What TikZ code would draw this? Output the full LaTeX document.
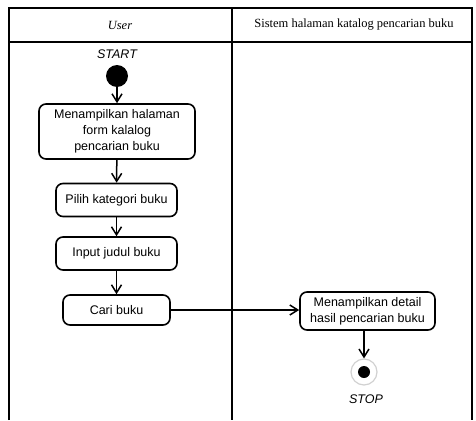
\documentclass[tikz,border=0pt]{standalone}
\usepackage{fontspec}
\setmainfont{Liberation Serif}
\setsansfont{Liberation Sans}
\usetikzlibrary{arrows.meta}
\begin{document}
\begin{tikzpicture}[x=1pt,y=-1pt,
  lane/.style={line width=2pt},
  act/.style={draw, line width=1.6pt, rounded corners=7pt, align=center,
    font=\sffamily\fontsize{12.5}{16}\selectfont, inner sep=0pt},
  flow/.style={line width=1.5pt, -{Straight Barb[length=8pt,width=10pt,line width=1.5pt]}},
  lbl/.style={font=\sffamily\itshape\fontsize{12.5}{15}\selectfont}]
\useasboundingbox (0,0) rectangle (476,420);
% swimlane frame
\draw[lane] (9,420) -- (9,8) -- (472,8) -- (472,420);
\draw[lane] (9,42) -- (472,42);
\draw[lane] (232,8) -- (232,420);
\node[font=\itshape\fontsize{12.5}{15}\selectfont] (hUser) at (120,25) {User};
\node[font=\fontsize{12.5}{15}\selectfont] (hSys) at (354,25) {Sistem halaman katalog pencarian buku};
% start / stop
\node[circle, fill=black, minimum size=22pt, inner sep=0pt] (start) at (117,76) {};
\node[lbl] (startL) at (117,54) {START};
\node[circle, draw=black!18, fill=white, line width=1.2pt, minimum size=26pt, inner sep=0pt] (stop) at (364,372) {};
\node[circle, fill=black, minimum size=12pt, inner sep=0pt] (stopIn) at (stop) {};
\node[lbl] (stopL) at (366,399) {STOP};
% activities
\node[act, minimum width=156pt, minimum height=55pt] (a1) at (117,131.5)
  {Menampilkan halaman\\form kalalog\\pencarian buku};
\node[act, minimum width=121pt, minimum height=33pt] (a2) at (116.5,200) {Pilih kategori buku};
\node[act, minimum width=121pt, minimum height=33pt] (a3) at (116.5,253.5) {Input judul buku};
\node[act, minimum width=107pt, minimum height=30pt] (a4) at (116.5,310) {Cari buku};
\node[act, minimum width=135pt, minimum height=38pt] (a5) at (367.5,311) {Menampilkan detail\\hasil pencarian buku};
% flows
\draw[flow] (start) -- (a1);
\draw[flow] (a1) -- (a2);
\draw[flow] (a2) -- (a3);
\draw[flow] (a3) -- (a4);
\draw[flow] (a4) -- (a4 -| a5.west);
\draw[flow] (a5.south -| stop) -- (stop);
\end{tikzpicture}
\end{document}
